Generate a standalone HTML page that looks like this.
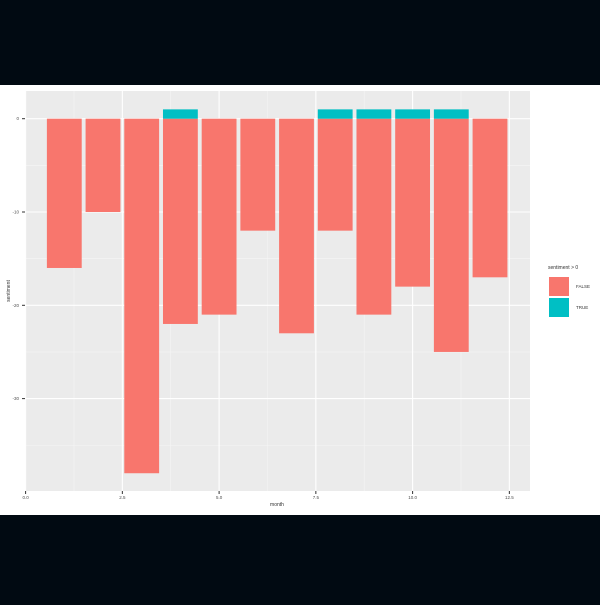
<!DOCTYPE html>
<html><head><meta charset="utf-8"><style>
body{margin:0;background:#010a12;width:600px;height:600px;overflow:hidden;font-family:"Liberation Sans",sans-serif}
</style></head><body>
<svg id="chart" width="600" height="600" xmlns="http://www.w3.org/2000/svg">
<rect x="0" y="0" width="600" height="600" fill="#010a12"/>
<rect x="0" y="85" width="600" height="430" fill="#ffffff"/>
<rect x="25" y="91" width="505" height="400" fill="#ebebeb"/>
<g id="grid"></g><g id="bars"></g><g id="axes"></g>
<text x="277" y="506" font-size="5" fill="#333" text-anchor="middle">month</text>
<text transform="translate(10,291) rotate(-90)" font-size="5" fill="#333" text-anchor="middle">sentiment</text>
<g>
<text x="548" y="269" font-size="5" fill="#333">sentiment &gt; 0</text>
<rect x="549" y="277" width="20" height="19" fill="#f8766d"/>
<text x="576" y="288" font-size="4.5" fill="#333">FALSE</text>
<rect x="549" y="298" width="20" height="19" fill="#00bfc4"/>
<text x="576" y="309" font-size="4.5" fill="#333">TRUE</text>
</g>
</svg>
<script>
const months=[1,2,3,4,5,6,7,8,9,10,11,12];
const negValues=[-16,-10,-38,-22,-21,-12,-23,-12,-21,-18,-25,-17];
const posValues=[0,0,0,1,0,0,0,1,1,1,1,0];
const xTicks=[0,2.5,5,7.5,10,12.5];
const xTickLabels=["0.0","2.5","5.0","7.5","10.0","12.5"];
const yTicks=[0,-10,-20,-30];
const yTickLabels=["0","-10","-20","-30"];
const NS="http://www.w3.org/2000/svg";
const px0=25,px1=530,py0=91,py1=491;
function xs(v){return 25.6+v*38.7;}
function ys(v){return 118.7-v*9.33;}
function mk(tag,attrs,parent){const e=document.createElementNS(NS,tag);for(const k in attrs)e.setAttribute(k,attrs[k]);parent.appendChild(e);return e;}
const grid=document.getElementById('grid'),bars=document.getElementById('bars'),axes=document.getElementById('axes');
for(let i=0;i<xTicks.length;i++){const m=xTicks[i]+1.25;if(xs(m)<px1){const l=mk('line',{x1:xs(m),x2:xs(m),y1:py0,y2:py1,stroke:'#f5f5f5','stroke-width':0.6},grid);}}
for(let i=0;i<yTicks.length;i++){const m=yTicks[i]-5;const l=mk('line',{x1:px0,x2:px1,y1:ys(m),y2:ys(m),stroke:'#f5f5f5','stroke-width':0.6},grid);}
xTicks.forEach((t,i)=>{
const l=mk('line',{x1:xs(t),x2:xs(t),y1:py0,y2:py1,stroke:'#fff','stroke-width':1.1},grid);

const tk=mk('line',{x1:xs(t),x2:xs(t),y1:py1,y2:py1+3,stroke:'#333','stroke-width':1},axes);

const tx=mk('text',{x:xs(t),y:py1+8,'font-size':4.5,fill:'#4d4d4d','text-anchor':'middle'},axes);tx.textContent=xTickLabels[i];

});
yTicks.forEach((t,i)=>{
const l=mk('line',{x1:px0,x2:px1,y1:ys(t),y2:ys(t),stroke:'#fff','stroke-width':1.1},grid);

const tk=mk('line',{x1:px0-3,x2:px0,y1:ys(t),y2:ys(t),stroke:'#333','stroke-width':1},axes);

const tx=mk('text',{x:px0-6,y:ys(t)+1.5,'font-size':4.5,fill:'#4d4d4d','text-anchor':'end'},axes);tx.textContent=yTickLabels[i];

});
months.forEach((m,i)=>{
const x=xs(m-0.45),w=xs(m+0.45)-x;
const b=mk('rect',{x:x,y:ys(0),width:w,height:ys(negValues[i])-ys(0),fill:'#f8766d'},bars);

if(posValues[i]>0){const p=mk('rect',{x:x,y:ys(posValues[i]),width:w,height:ys(0)-ys(posValues[i]),fill:'#00bfc4'},bars);
}
});
</script>
</body></html>
